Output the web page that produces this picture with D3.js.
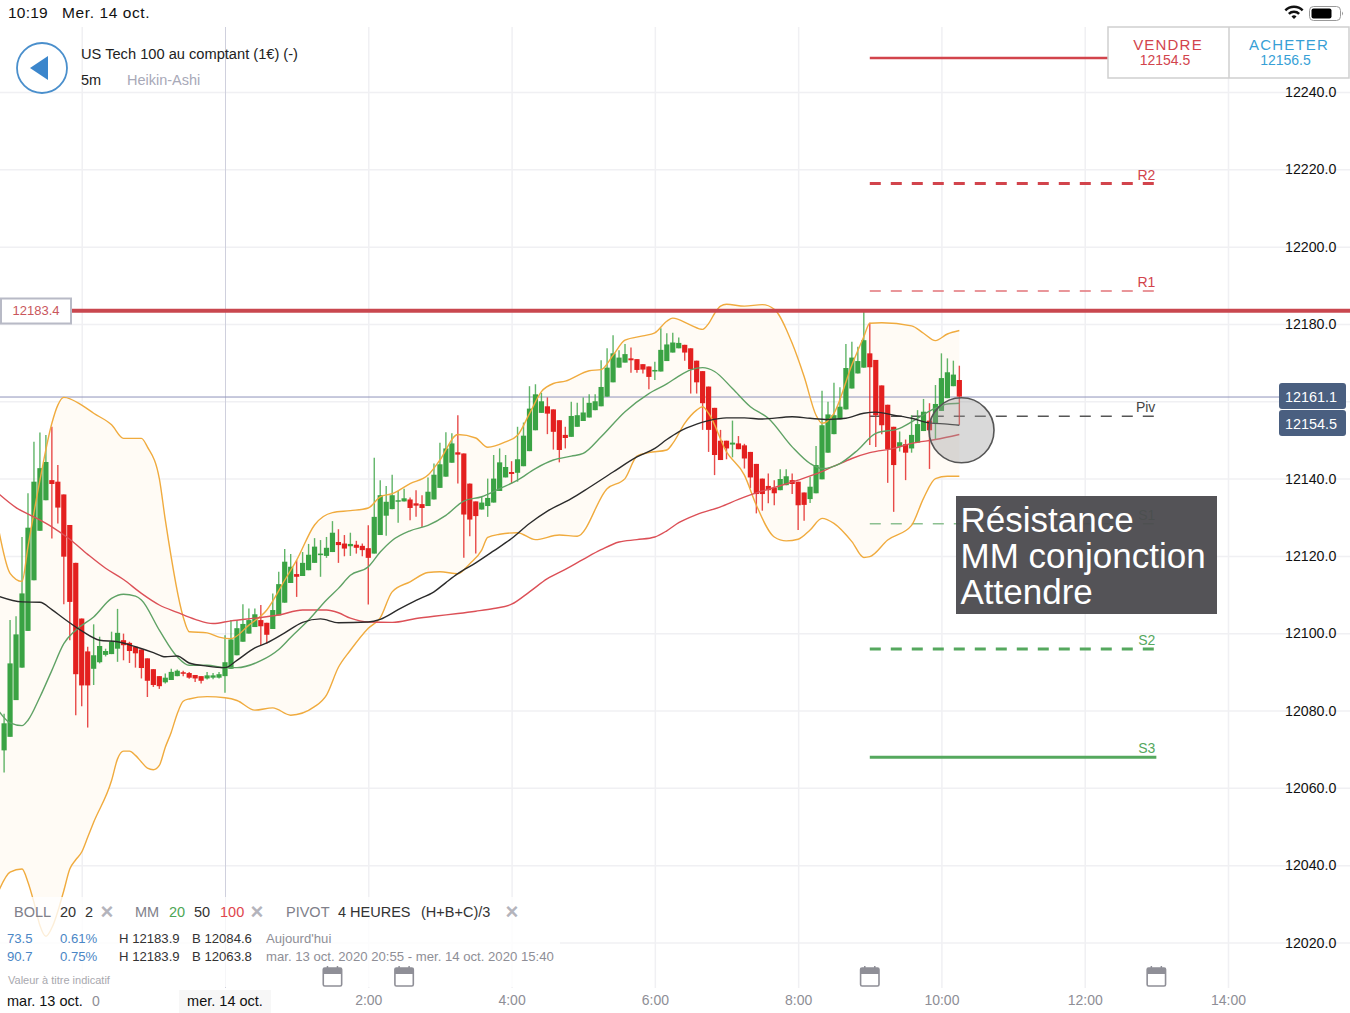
<!DOCTYPE html>
<html>
<head>
<meta charset="utf-8">
<script src="https://cdn.jsdelivr.net/npm/d3@7"></script>
<style>
html,body{margin:0;padding:0;background:#fff;overflow:hidden}
text{font-family:"Liberation Sans",Arial,sans-serif}
</style>
</head>
<body>
<div id="chart"></div>
<script>
// heikin-ashi candles, 5 min, index 0 = mer. 14 oct. 0:00
var firstCandle = -37
var candleOpen = [
12069.7,12073.2,12082.7,12091.1,12100.6,12113.7,12126.5,12134.4,12139.6,12139.2,
12135.9,12128,12118.2,12103.8,12095.3,12090.8,12092.5,12094.4,12094.6,12096,
12098.2,12097.5,12096.5,12095.8,12093.5,12090.7,12088.9,12087.3,12087.9,12088.9,
12089.9,12089.7,12089.2,12088.9,12088.3,12088.5,12088.5,12088.9,12090.8,12094.3,
12097.8,12099.9,12101.6,12103.4,12102.7,12101.1,12104.6,12107.9,12113,12115.3,
12114.8,12116.3,12118.2,12120.2,12120,12121,12123.6,12123.2,12122.5,12122.9,
12122.6,12122,12120.6,12125.4,12130.4,12132.1,12134.1,12134.1,12134.6,12133.6,
12133.4,12132.9,12134.6,12137.6,12140.5,12144.1,12146.8,12146.5,12138.7,12134.1,
12132,12132.9,12133.8,12136.8,12140.3,12141.7,12141.5,12143.2,12147.1,12152.5,
12157,12158.7,12157.9,12155.1,12151.3,12150.8,12153.4,12154.9,12155.8,12157.7,
12158.7,12161.2,12164.9,12168.7,12170,12171.1,12170.9,12169.6,12169,12167.7,
12167.7,12170.4,12172.6,12173.7,12174.6,12173.7,12170.5,12167.8,12163.8,12158.3,
12149.8,12149.8,12148.8,12149.1,12148.6,12146.9,12143.8,12140,12138.1,12137.6,
12137,12138.3,12139.6,12139.2,12136.4,12134.7,12136.2,12139.8,12146.7,12151.5,
12155.3,12157.9,12163.3,12167.2,12168.7,12172.4,12170.7,12164.1,12159.1,12153.4,
12148.2,12148.9,12147.8,12149.3,12152.3,12155,12154.3,12157.5,12160.8,12163.9,
12165.5]
var candleClose = [
12076.7,12092.2,12099.7,12110.3,12127.3,12139.2,12142.7,12144.3,12138.6,12132.5,
12119.8,12108.1,12089.4,12086.5,12086.5,12094.3,12096.7,12095.4,12097.8,12100.1,
12096.9,12095.4,12094.8,12091,12087.7,12086.6,12086.3,12088.5,12090,12090.3,
12089.6,12088.5,12088.3,12087.7,12089.1,12089.1,12089.4,12092.5,12098.4,12101.3,
12102.4,12103.4,12104.9,12101.8,12099.6,12106,12112.7,12118.5,12117.2,12114.6,
12118.2,12120.3,12122.4,12120.6,12122.1,12126,12122.8,12121.9,12123.1,12122.1,
12121.5,12119.5,12130.1,12135.7,12134,12135.7,12134.4,12134.9,12132.4,12133,
12132.4,12136.6,12141,12143.7,12147.8,12149.1,12146.2,12130.7,12129.4,12130.3,
12133.8,12135,12140,12144.2,12143,12141.2,12145,12151.1,12158.1,12161.8,
12160,12156.8,12152.1,12147.4,12150.5,12156.2,12156.4,12157.1,12159.6,12160,
12163.7,12168.7,12172.4,12171.3,12172.2,12170.6,12168.1,12168.2,12166.3,12168.1,
12173.3,12174.7,12175.2,12175.1,12172.6,12168.3,12164.9,12159.5,12152.6,12146.1,
12144.8,12147.8,12149.3,12147.6,12145.2,12140.3,12136,12136,12137,12136.2,
12139.9,12140.6,12138.6,12133.1,12133.2,12137.9,12143.5,12153.8,12156.6,12156.4,
12158.6,12168.6,12171.3,12170.4,12175.8,12168.8,12156.4,12153.8,12147.6,12143.5,
12149.4,12146.7,12151.3,12154.1,12157.3,12152.5,12159.3,12166,12167.5,12166.9,
12161.2]
var candleHigh = [
12079.2,12103.4,12104.4,12124.9,12136.2,12149.5,12151.9,12151.3,12153.4,12143.5,
12135.9,12128,12118.2,12103.8,12096.5,12102.3,12099.1,12096,12100.4,12106.3,
12099.9,12097.8,12096.5,12095.8,12093.5,12090.7,12088.9,12089.6,12090.8,12090.6,
12090.3,12090,12089.2,12088.9,12090,12089.7,12090,12099.5,12103.4,12103.4,
12107.5,12106.4,12106.4,12107.3,12102.7,12110.3,12115.9,12121.8,12120.5,12118.9,
12121,12123.1,12124.6,12124.1,12124.9,12129,12126.9,12125.4,12126,12123.9,
12123.2,12127.9,12145.4,12139.6,12138.1,12141,12136.8,12137.4,12135.1,12137,
12135.7,12140.3,12143.9,12149.3,12152,12151.7,12156.4,12146.5,12138.7,12134.1,
12135.3,12140,12146.1,12147.8,12146.1,12144.5,12153.4,12154.5,12163.9,12164.4,
12162.2,12161,12157.9,12155.1,12153.4,12159.9,12159.6,12161,12161.8,12161.8,
12170.6,12173.7,12177.1,12173.2,12174.8,12173.9,12170.9,12169.6,12169,12170.2,
12178.9,12177.6,12177.7,12176.5,12174.6,12173.7,12170.5,12167.8,12163.8,12158.3,
12152.6,12149.8,12155,12151,12149,12146.9,12143.8,12140,12141.3,12139.6,
12142.4,12142.4,12141.3,12139.2,12136.4,12140.5,12148.4,12162.7,12159.9,12164.8,
12163.6,12174.8,12175.4,12174.1,12183.9,12180.3,12170.7,12164.1,12159.1,12153.4,
12152.2,12150.1,12156.4,12157.7,12160.6,12159.5,12164.2,12172.4,12171.1,12170.5,
12169.2]
var candleLow = [
12064,12073.2,12082.7,12091.1,12100.6,12113.7,12126.5,12134.4,12124.5,12128.4,
12107.5,12098.2,12078.8,12081.1,12075.6,12086.6,12092.2,12094,12094.6,12092.6,
12093,12092.3,12091.1,12088.3,12083.5,12086.1,12085.6,12087,12087.9,12088.9,
12088.9,12088.2,12087.4,12087,12088,12088.1,12088.3,12084.6,12090.8,12094.3,
12097.8,12099.9,12101.6,12096.9,12097.3,12101.1,12104.6,12107.9,12113,12109.4,
12114.8,12116.3,12118.2,12114.6,12119.5,12121,12118.2,12119.9,12120,12120.6,
12119.9,12107.4,12120.6,12125.4,12125.2,12132.1,12128.6,12134.1,12129.2,12130.1,
12127.5,12132.9,12134.6,12137.6,12140.5,12144.1,12138.7,12119.5,12125.1,12120.6,
12132,12130.1,12133.8,12136.8,12140.3,12138.7,12139.2,12143.2,12147.1,12152.5,
12157,12151.5,12147.5,12144.2,12147.8,12150.8,12153.4,12154.9,12155.8,12157.7,
12158.7,12161.2,12164.9,12168.7,12170,12167.4,12167.4,12167.2,12163.1,12165.5,
12167.7,12170.4,12172.6,12173.7,12170.5,12162,12162,12152.6,12146.9,12140.9,
12144.8,12145,12145.5,12147.6,12142.6,12137.5,12131,12131.7,12133.6,12133.1,
12137,12138.3,12136,12126.7,12129.1,12133.7,12136.2,12139.8,12146.7,12151.5,
12155.3,12157.9,12163.3,12167.2,12168.7,12148.7,12148.2,12151.5,12138.9,12131.4,
12147,12139.6,12146.7,12149.3,12152.3,12142.5,12150,12157.5,12160.8,12163.9,
12153.9]

// indicators as [candle index, price]
var bollUpper = [[-38,12127.5],[-36,12115.5],[-34,12113.4],[-33,12122.4],[-31,12139.6],[-29,12154.3],[-28,12159],[-27,12161],[-24,12159],[-22,12156.9],[-19,12153.9],[-17,12150.4],[-14,12150.4],[-13,12148.2],[-11,12140],[-10,12129.3],[-7,12104.2],[-6,12100.4],[-3,12100.1],[-1,12099],[1,12098.6],[4,12102.1],[7,12106],[10,12113.7],[12,12118.9],[15,12128],[18,12131.2],[21,12131.7],[24,12132.4],[26,12135.3],[28,12136.1],[31,12138.7],[34,12140.9],[36,12144.8],[39,12151.4],[42,12150.5],[44,12148.1],[47,12149.5],[49,12151.2],[51,12156.8],[53,12162.5],[55,12164.6],[57,12165.2],[61,12167.9],[63,12168.2],[65,12171.9],[67,12175.8],[70,12176.9],[72,12177.7],[74,12180.7],[75,12181.5],[78,12179.7],[80,12178.6],[81,12180.1],[82,12182.7],[83,12184.6],[84,12185.1],[87,12184.6],[90,12185],[92,12183.8],[95,12175],[97,12166.4],[99,12156.4],[100,12154.3],[102,12156.9],[105,12169.4],[107,12176.7],[108,12180.2],[110,12180.3],[115,12179.5],[117,12177.6],[119,12175.7],[121,12177.4],[123,12178.3]]
var bollLower = [[-38,12033],[-36,12038.2],[-34,12039],[-33,12035.6],[-32,12030.4],[-31,12024.4],[-30,12021.6],[-29,12023.8],[-27,12033.4],[-26,12039],[-25,12041.4],[-24,12043.4],[-23,12047.2],[-22,12051.1],[-19,12061.9],[-18,12067.5],[-17,12069.5],[-16,12069.5],[-15,12068.4],[-14,12066.7],[-13,12065.1],[-12,12064.7],[-11,12065.8],[-10,12070.5],[-9,12074.4],[-8,12079.2],[-7,12082.4],[-6,12083],[-3,12083.6],[0,12083.3],[2,12082.6],[5,12080.1],[8,12080.7],[11,12078.8],[15,12081],[17,12084],[19,12091.2],[21,12095.6],[24,12101.3],[26,12104],[28,12110.7],[31,12113.3],[34,12115.7],[36,12115.9],[39,12115.4],[41,12118],[43,12121.5],[44,12124.8],[46,12125.6],[49,12126],[52,12124.2],[56,12125.4],[59,12125.1],[64,12137.4],[67,12140],[69,12145.8],[71,12146.7],[74,12147.4],[75,12149.1],[77,12154.3],[79,12157.7],[80,12158.6],[81,12156.9],[84,12146.9],[87,12140.9],[89,12133.1],[92,12124.9],[94,12123.9],[96,12124.3],[98,12126.7],[100,12129.7],[102,12128.4],[105,12123.7],[107,12119.6],[108,12119.8],[111,12124.1],[115,12127.9],[117,12134.9],[119,12140],[121,12140.6],[123,12140.6]]
var mm20 = [[-38,12080.1],[-36,12076.8],[-34,12076.1],[-33,12077.5],[-31,12083.5],[-29,12090.4],[-27,12097.3],[-25,12100.8],[-22,12104.2],[-19,12109],[-17,12110.1],[-15,12109.6],[-14,12108.6],[-11,12100.8],[-8,12093.9],[-6,12091.7],[-3,12091.7],[0,12091.1],[2,12091.1],[6,12092.9],[9,12095.8],[11,12098.9],[14,12103.4],[17,12108.6],[19,12111.6],[21,12115],[24,12117.2],[26,12121],[28,12124],[31,12126.5],[34,12127.9],[37,12130.5],[40,12134.2],[43,12135.3],[46,12137.4],[49,12139.6],[52,12142.6],[55,12144.8],[58,12145.8],[60,12146.5],[63,12150.8],[67,12157.3],[71,12162],[74,12164.5],[76,12166.5],[78,12168.1],[80,12168.7],[82,12167.7],[85,12163.3],[88,12158.6],[91,12155.6],[95,12148.2],[98,12143.9],[100,12142.6],[103,12143.9],[106,12147.4],[109,12151.7],[113,12153],[116,12155.6],[119,12158.2],[121,12159.3],[123,12159.5]]
var mm50 = [[-38,12109.6],[-34,12108.1],[-31,12108],[-29,12106.1],[-27,12103.8],[-24,12100.6],[-21,12098.2],[-18,12097.8],[-15,12096.5],[-12,12095],[-10,12093.9],[-8,12094.1],[-6,12092.3],[-3,12091.5],[0,12091.1],[2,12093],[5,12096.2],[7,12097.5],[10,12100.1],[13,12102.8],[16,12103.7],[19,12102.7],[24,12102.9],[26,12103.6],[29,12106.1],[32,12108.5],[35,12110.7],[37,12113.1],[39,12115.4],[42,12118.2],[45,12121.3],[48,12124.5],[51,12128.4],[54,12131.6],[58,12134.8],[61,12137.7],[65,12141.7],[69,12145.6],[72,12147.8],[74,12150.1],[76,12152.1],[79,12154.1],[81,12155],[84,12155.7],[87,12155.7],[90,12155.4],[95,12156],[98,12155.6],[101,12155.3],[104,12155.6],[107,12156.9],[109,12157.2],[112,12156.4],[115,12155.6],[118,12154.4],[121,12154.1],[123,12153.8]]
var mm100 = [[-38,12136.2],[-35,12132.5],[-32,12130.1],[-29,12127.5],[-26,12124.3],[-23,12120.4],[-20,12116.8],[-17,12113.9],[-14,12110.3],[-11,12107.3],[-8,12105.4],[-5,12103.6],[-2,12102.5],[1,12103.2],[5,12103.9],[9,12104.7],[13,12106],[17,12106],[19,12105.3],[21,12103.9],[24,12102.9],[28,12102.8],[32,12103.8],[35,12104.4],[39,12105.1],[42,12105.7],[45,12106.4],[48,12107.5],[51,12110.7],[54,12114.1],[57,12116.5],[60,12119.1],[63,12121.6],[66,12123.6],[69,12124.2],[72,12124.9],[74,12126.5],[76,12128.6],[79,12130.7],[83,12132.7],[86,12134.6],[89,12136.3],[92,12137.7],[96,12139.6],[99,12141.2],[102,12143.2],[105,12145.2],[108,12146.7],[112,12147.8],[115,12149.1],[119,12150.1],[123,12151.4]]

// pivot levels, R3 has its label hidden behind the buttons
var pivotNames = ["","R2","R1","Piv","S1","S2","S3"]
var pivotValues = [12248.8,12216.3,12188.5,12156.1,12128.3,12095.9,12067.9]
var pivotColors = ["#d2444c","#d2444c","#e2747a","#555","#8cc091","#55a85e","#55a85e"]
var pivotWidths = [2.5,3,1.5,1.5,1.5,3,3]
var pivotDashed = [0,1,1,1,1,1,0]
var pivotStart = 108, pivotEnd = 156

var resistance = 12183.4
var lastPrices = ["12161.1","12154.5"]
var priceTicks = [12020,12040,12060,12080,12100,12120,12140,12160,12180,12200,12220,12240]
var priceLabelTicks = [12020,12040,12060,12080,12100,12120,12140,12180,12200,12220,12240]
var hourTicks = [-24,0,24,48,72,96,120,144,168]
var hourLabelTicks = [24,48,72,96,120,144,168]
var hourLabels = ["2:00","4:00","6:00","8:00","10:00","12:00","14:00"]
var calendarDays = [18,30,108,156]

var W = 1350, H = 1013
var svg = d3.select("#chart").append("svg").attr("width",W).attr("height",H)
	.style("display","block")

var x = d3.scaleLinear().domain([0,168]).range([225,1228])
var y = d3.scaleLinear().domain([12020,12240]).range([942.5,92])

// grid
var gridY = svg.append("g").attr("transform","translate("+W+",0)")
	.call(d3.axisLeft(y).tickValues(priceTicks).tickSize(W).tickFormat(""))
gridY.select(".domain").remove()
gridY.selectAll("line").attr("stroke","#f0f0f3").attr("stroke-width",1.5)

var gridX = svg.append("g").attr("transform","translate(0,988)")
	.call(d3.axisTop(x).tickValues(hourTicks).tickSize(961).tickFormat(""))
gridX.select(".domain").remove()
gridX.selectAll("line").attr("stroke",function(d){return d==0 ? "#cfd0dd" : "#f0f0f3"}).attr("stroke-width",function(d){return d==0 ? 1 : 1.5})

var lineGen = d3.line().x(function(d){return x(d[0])}).y(function(d){return y(d[1])}).curve(d3.curveMonotoneX)

// bollinger fill
var bandPts = bollUpper.concat(bollLower.slice().reverse())
svg.append("path")
	.attr("d",d3.line().x(function(d){return x(d[0])}).y(function(d){return y(d[1])})(bandPts))
	.attr("fill","#fffbf5")

// last close marker line
svg.append("line").attr("x1",0).attr("x2",1280).attr("y1",y(12161.1)).attr("y2",y(12161.1))
	.attr("stroke","#8f93ba").attr("stroke-width",1)

// pivots
pivotValues.forEach(function(v,i){
	var l = svg.append("line")
		.attr("x1",x(pivotStart)).attr("x2",x(pivotEnd))
		.attr("y1",y(v)).attr("y2",y(v))
		.attr("stroke",pivotColors[i]).attr("stroke-width",pivotWidths[i])
	if(pivotDashed[i]) l.attr("stroke-dasharray","11,10")
	if(pivotNames[i]) svg.append("text").attr("x",x(pivotEnd)-1).attr("y",y(v)-4)
		.attr("text-anchor","end").attr("font-size",14)
		.attr("fill", i<3 ? "#d2444c" : (i==3 ? "#444" : "#55a85e"))
		.text(pivotNames[i])
})

// candles
var candles = candleOpen.map(function(o,i){
	return {i:firstCandle+i,o:o,c:candleClose[i],h:candleHigh[i],l:candleLow[i]}
})
var candleColor = function(d){return d.c>=d.o ? "#3aa344" : "#e3201f"}
svg.append("g").selectAll("line").data(candles).enter().append("line")
	.attr("x1",function(d){return x(d.i)}).attr("x2",function(d){return x(d.i)})
	.attr("y1",function(d){return y(d.h)}).attr("y2",function(d){return y(d.l)})
	.attr("stroke",candleColor).attr("stroke-width",1.4).attr("opacity",0.8)
svg.append("g").selectAll("rect").data(candles).enter().append("rect")
	.attr("x",function(d){return x(d.i)-2.6}).attr("width",5.2)
	.attr("y",function(d){return y(Math.max(d.o,d.c))})
	.attr("height",function(d){return Math.max(1.5,Math.abs(y(d.o)-y(d.c)))})
	.attr("fill",candleColor)

// indicator lines
var indicators = [[bollUpper,"#f0ab3e"],[bollLower,"#f0ab3e"],[mm100,"#dc5057"],[mm20,"#5fa265"],[mm50,"#2b2b2b"]]
indicators.forEach(function(s){
	svg.append("path").attr("d",lineGen(s[0])).attr("fill","none")
		.attr("stroke",s[1]).attr("stroke-width",1.4)
})

// resistance line and tag
svg.append("line").attr("x1",70).attr("x2",W).attr("y1",y(resistance)).attr("y2",y(resistance))
	.attr("stroke","#c9474f").attr("stroke-width",4)
svg.append("rect").attr("x",1).attr("y",298.5).attr("width",70).attr("height",25)
	.attr("fill","#fff").attr("stroke","#b8bac6").attr("stroke-width",2)
svg.append("text").attr("x",36).attr("y",315).attr("text-anchor","middle").attr("font-size",13)
	.attr("fill","#c9565c").text(d3.format(".1f")(resistance))

// circle annotation
svg.append("circle").attr("cx",961.5).attr("cy",430.3).attr("r",32.5)
	.attr("fill","#9a9a9a").attr("fill-opacity",0.38).attr("stroke","#555").attr("stroke-width",1.6)

// note
svg.append("rect").attr("x",956).attr("y",496).attr("width",261).attr("height",118)
	.attr("fill","#4b4a4e").attr("fill-opacity",0.95)
var noteLines = ["Résistance","MM conjonction","Attendre"]
var noteBase = [532,568,604]
noteLines.forEach(function(t,i){
	svg.append("text").attr("x",960.5).attr("y",noteBase[i]).attr("font-size",35)
		.attr("fill","#fff").text(t)
})

// legend veil over the chart
svg.append("rect").attr("x",0).attr("y",897).attr("width",560).attr("height",90)
	.attr("fill","#fff").attr("fill-opacity",0.8)

// price axis labels
var axisY = svg.append("g").attr("transform","translate(1285,0)")
	.call(d3.axisRight(y).tickValues(priceLabelTicks).tickSize(0).tickPadding(0).tickFormat(d3.format(".1f")))
axisY.select(".domain").remove()
axisY.selectAll("text").attr("font-size",14.2).attr("fill","#111").style("font-family",'"Liberation Sans"')

// last price pills
var pillTop = [383,410]
lastPrices.forEach(function(t,i){
	svg.append("rect").attr("x",1279).attr("y",pillTop[i]).attr("width",67).attr("height",26)
		.attr("rx",3).attr("fill","#4a5f80")
	svg.append("text").attr("x",1311).attr("y",pillTop[i]+18.5).attr("text-anchor","middle")
		.attr("font-size",14.4).attr("fill","#fff").text(t)
})

// time axis labels
var axisX = svg.append("g").attr("transform","translate(0,990)")
	.call(d3.axisBottom(x).tickValues(hourLabelTicks).tickSize(0).tickPadding(5)
		.tickFormat(function(d,i){return hourLabels[i]}))
axisX.select(".domain").remove()
axisX.selectAll("text").attr("font-size",14).attr("fill","#8e8e96").style("font-family",'"Liberation Sans"')

svg.append("text").attr("x",7).attr("y",1006).attr("font-size",14.5).attr("fill","#111").text("mar. 13 oct.")
svg.append("text").attr("x",92).attr("y",1006).attr("font-size",14).attr("fill","#8e8e96").text("0")
svg.append("rect").attr("x",179).attr("y",990).attr("width",92).attr("height",23).attr("fill","#f7f7f7")
svg.append("text").attr("x",225).attr("y",1006).attr("text-anchor","middle").attr("font-size",14.5).attr("fill","#111").text("mer. 14 oct.")

// calendar icons
calendarDays.forEach(function(d){
	var g = svg.append("g").attr("transform","translate("+(x(d)-10)+",966)")
	g.append("rect").attr("x",0.8).attr("y",2).attr("width",18.4).attr("height",18).attr("rx",1.5)
		.attr("fill","#fff").attr("stroke","#8f8f97").attr("stroke-width",1.6)
	g.append("rect").attr("x",0.8).attr("y",2).attr("width",18.4).attr("height",6).attr("fill","#8f8f97")
	g.append("line").attr("x1",5).attr("x2",5).attr("y1",0).attr("y2",4).attr("stroke","#8f8f97").attr("stroke-width",1.5)
	g.append("line").attr("x1",15).attr("x2",15).attr("y1",0).attr("y2",4).attr("stroke","#8f8f97").attr("stroke-width",1.5)
})

// legend text
function label(tx,ty,t,size,color){
	return svg.append("text").attr("x",tx).attr("y",ty).attr("font-size",size).attr("fill",color).text(t)
}
var gray = "#80808a", dark = "#333", blue = "#4a86c5"
label(14,917,"BOLL",14.5,gray); label(60,917,"20",14.5,dark); label(85,917,"2",14.5,dark)
label(135,917,"MM",14.5,gray); label(169,917,"20",14.5,"#4da655"); label(194,917,"50",14.5,dark); label(220,917,"100",14.5,"#e0454c")
label(286,917,"PIVOT",14.5,gray); label(338,917,"4 HEURES",14.5,dark); label(421,917,"(H+B+C)/3",14.5,dark)
var closeX = [107,257,512]
closeX.forEach(function(cx){
	label(cx,919,"×",22,"#b4b4bc").attr("text-anchor","middle").attr("font-weight","bold")
})
label(7,943,"73.5",13.15,blue); label(60,943,"0.61%",13.15,blue); label(119,943,"H 12183.9",13.15,dark); label(192,943,"B 12084.6",13.15,dark); label(266,943,"Aujourd'hui",13.15,"#8e8e96")
label(7,961,"90.7",13.15,blue); label(60,961,"0.75%",13.15,blue); label(119,961,"H 12183.9",13.15,dark); label(192,961,"B 12063.8",13.15,dark); label(266,961,"mar. 13 oct. 2020 20:55 - mer. 14 oct. 2020 15:40",13.15,"#8e8e96")
label(8,984,"Valeur à titre indicatif",11,"#a8a8ae")

// header
svg.append("circle").attr("cx",42).attr("cy",68).attr("r",25).attr("fill","#fff").attr("stroke","#4a8fcc").attr("stroke-width",1.8)
svg.append("path").attr("d",d3.line()([[30,68],[48,56],[48,80]])+"Z").attr("fill","#3b86cc")
label(81,59,"US Tech 100 au comptant (1€) (-)",14.65,"#222")
label(81,85,"5m",14.5,"#222")
label(127,85,"Heikin-Ashi",14.5,"#a8a9b8")

// sell / buy buttons
svg.append("rect").attr("x",1108).attr("y",27).attr("width",241).attr("height",51).attr("fill","#fff").attr("stroke","#cfcfcf").attr("stroke-width",1.5)
svg.append("line").attr("x1",1229).attr("x2",1229).attr("y1",27).attr("y2",78).attr("stroke","#cfcfcf").attr("stroke-width",1.5)
label(1168,50,"VENDRE",15,"#d2444c").attr("text-anchor","middle").attr("letter-spacing",1.2)
label(1165,64.5,"12154.5",14,"#d2444c").attr("text-anchor","middle")
label(1289,50,"ACHETER",15,"#379fd6").attr("text-anchor","middle").attr("letter-spacing",1.2)
label(1285.5,64.5,"12156.5",14,"#379fd6").attr("text-anchor","middle")

// status bar
label(8,18,"10:19",15.5,"#111").attr("letter-spacing",0.2)
label(62,18,"Mer. 14 oct.",15.5,"#111").attr("letter-spacing",0.6)
var wifiArc = d3.arc().startAngle(-Math.PI/4).endAngle(Math.PI/4)
var wifiR = [[0,3.5],[6,8.5],[11,13.5]]
wifiR.forEach(function(r){
	svg.append("path").attr("transform","translate(1294,19)")
		.attr("d",wifiArc({innerRadius:r[0],outerRadius:r[1]})).attr("fill","#111")
})
svg.append("rect").attr("x",1309.5).attr("y",6.5).attr("width",31).attr("height",14).attr("rx",4).attr("fill","none").attr("stroke","#999").attr("stroke-width",1)
svg.append("rect").attr("x",1311.5).attr("y",8.5).attr("width",20).attr("height",10).attr("rx",2).attr("fill","#000")
svg.append("path").attr("d","M342,11.5a2.5,2.5 0 0 1 0,4z").attr("transform","translate(1000,0)").attr("fill","#999")
</script>
</body>
</html>
